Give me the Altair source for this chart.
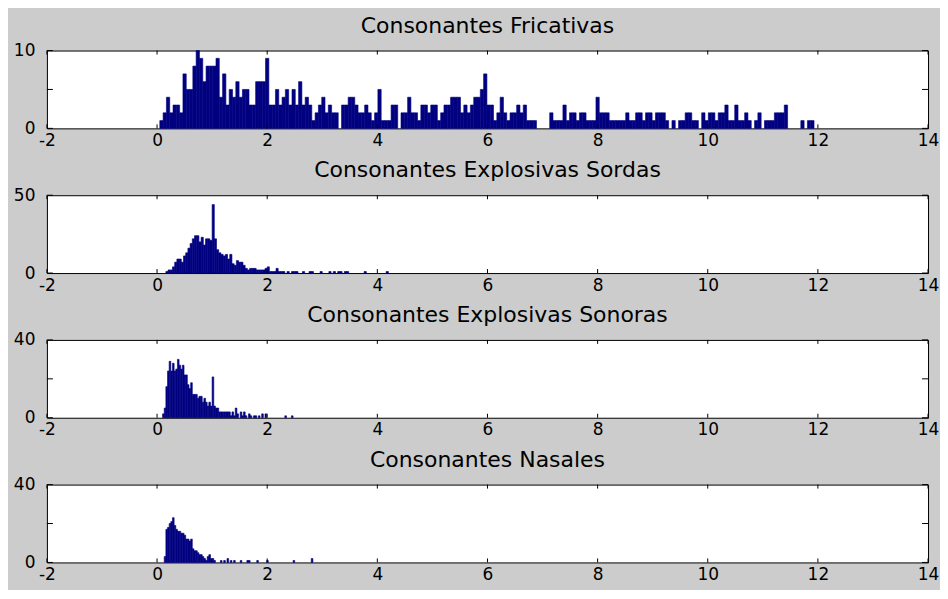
import altair as alt
import pandas as pd

# ---------------- data ----------------
titles = ["Consonantes Fricativas", "Consonantes Explosivas Sordas",
          "Consonantes Explosivas Sonoras", "Consonantes Nasales"]

x_ticks = [-2, 0, 2, 4, 6, 8, 10, 12, 14]

# Fricativas: bins of width 0.06 starting at 0.05
fric_start = 0.05
fric_width = 0.06
fric_counts = [
    1, 2, 4, 2, 3, 3, 2, 7, 5, 5,
    8, 10, 9, 6, 8, 8, 8, 9, 4, 7,
    3, 5, 4, 6, 4, 5, 5, 3, 3, 6,
    6, 6, 9, 3, 3, 5, 3, 4, 5, 3,
    5, 3, 6, 3, 4, 3, 1, 2, 3, 4,
    2, 3, 2, 2, 0, 3, 3, 4, 4, 3,
    2, 2, 3, 2, 1, 2, 5, 1, 1, 1,
    3, 3, 0, 2, 2, 4, 2, 2, 1, 3,
    3, 2, 3, 3, 1, 2, 3, 3, 4, 4,
    4, 2, 3, 2, 3, 4, 4, 5, 7, 3,
    3, 1, 2, 4, 2, 1, 2, 2, 3, 2,
    3, 1, 1, 1, 0, 0, 0, 0, 2, 1,
    1, 1, 3, 1, 2, 2, 1, 2, 2, 1,
    1, 1, 4, 2, 2, 2, 1, 1, 1, 1,
    1, 2, 1, 1, 2, 2, 1, 2, 2, 1,
    2, 2, 2, 1, 0, 1, 0, 1, 1, 2,
    2, 1, 1, 0, 2, 1, 2, 2, 1, 2,
    2, 3, 1, 1, 3, 1, 1, 2, 1, 0,
    1, 2, 0, 1, 1, 1, 2, 2, 2, 3,
    0, 0, 0, 0, 1, 0, 1, 1, 0, 0,
]

# Explosivas Sordas: bins of width 0.04 starting at 0.16
sord_start = 0.16
sord_width = 0.04
sord_counts = [
    1, 2, 2, 4, 7, 9, 9, 7, 11, 13,
    16, 19, 22, 24, 24, 20, 23, 18, 22, 22,
    21, 44, 22, 15, 13, 12, 11, 12, 9, 12,
    6, 5, 8, 7, 7, 5, 3, 2, 3, 3,
    3, 2, 2, 2, 2, 3, 4, 1, 1, 1,
    3, 1, 1, 1, 0, 1, 0, 1, 1, 1,
    0, 0, 1, 0, 0, 1, 1, 0, 0, 0,
    1, 0, 0, 0, 1, 0, 1, 0, 1, 1,
    0, 1, 1, 0, 0, 0, 0, 0, 0, 0,
    1, 0, 0, 0, 0, 0, 0, 0, 0, 0,
    1,
]

# Explosivas Sonoras: bins of width 0.03 starting at 0.10
sono_start = 0.10
sono_width = 0.03
sono_counts = [
    2, 5, 16, 24, 29, 24, 28, 24, 25, 30,
    27, 25, 27, 22, 22, 17, 15, 18, 12, 12,
    12, 10, 11, 11, 8, 10, 8, 6, 8, 6,
    21, 6, 5, 5, 3, 3, 3, 3, 3, 3,
    3, 1, 3, 1, 5, 2, 0, 3, 1, 3,
    1, 0, 2, 1, 0, 1, 1, 0, 1, 0,
    2, 0, 2, 0, 0, 0, 0, 0, 0, 0,
    0, 0, 0, 0, 1, 0, 0, 0, 1,
]

# Nasales: bins of width 0.03 starting at 0.10
nasa_start = 0.10
nasa_width = 0.03
nasa_counts = [
    0, 3, 17, 18, 20, 21, 23, 19, 17, 16,
    16, 15, 15, 14, 12, 12, 11, 12, 7, 6,
    6, 5, 4, 4, 3, 2, 1, 3, 4, 2,
    2, 1, 0, 0, 0, 1, 0, 1, 0, 2,
    0, 1, 0, 1, 0, 0, 0, 1, 0, 0,
    0, 1, 1, 0, 0, 0, 0, 1, 0, 0,
    0, 0, 0, 1, 0, 0, 0, 0, 0, 0,
    0, 0, 0, 0, 0, 0, 0, 0, 0, 1,
    0, 0, 0, 0, 0, 0, 0, 0, 0, 0,
    2,
]

y_max = [10, 50, 40, 40]
y_ticks = [[0, 5, 10], [0, 50], [0, 20, 40], [0, 20, 40]]

# ---------------- style ----------------
FONT = "DejaVu Sans"
BG = "#CCCCCC"
BAR = "#000080"
W, H = 883, 78


def bins_frame(start, width, counts):
    rows = []
    for i, c in enumerate(counts):
        if c > 0:
            lo = start + i * width
            rows.append({"lo": lo, "hi": lo + width, "n": c})
    return pd.DataFrame(rows)


def panel(title, df, ymax, yticks):
    xs = alt.Scale(domain=[-2, 14], nice=False, zero=False)
    ys = alt.Scale(domain=[0, ymax], nice=False)
    bars = alt.Chart(df).mark_bar(color=BAR, stroke=BAR, strokeWidth=0.6).encode(
        x=alt.X("lo:Q", scale=xs,
                axis=alt.Axis(values=x_ticks, title=None, labelFlush=False,
                              labelOverlap=False, labelPadding=4,
                              labelExpr="'' + datum.value")),
        x2="hi:Q",
        y=alt.Y("n:Q", scale=ys,
                axis=alt.Axis(values=yticks, title=None, labelFlush=False,
                              labelOverlap=False, labelPadding=12,
                              labelExpr="'' + datum.value")),
        y2=alt.datum(0),
    )
    xt = pd.DataFrame({"t": x_ticks})
    yt = pd.DataFrame({"t": yticks})
    tick_bot = alt.Chart(xt).mark_rule(color="black", strokeWidth=1).encode(
        x=alt.X("t:Q", scale=xs), y=alt.value(H), y2=alt.value(H - 4))
    tick_top = alt.Chart(xt).mark_rule(color="black", strokeWidth=1).encode(
        x=alt.X("t:Q", scale=xs), y=alt.value(0), y2=alt.value(4))
    tick_l = alt.Chart(yt).mark_rule(color="black", strokeWidth=1).encode(
        y=alt.Y("t:Q", scale=ys), x=alt.value(0), x2=alt.value(6))
    tick_r = alt.Chart(yt).mark_rule(color="black", strokeWidth=1).encode(
        y=alt.Y("t:Q", scale=ys), x=alt.value(W - 6), x2=alt.value(W))
    return alt.layer(bars, tick_bot, tick_top, tick_l, tick_r).properties(
        width=W, height=H,
        title=alt.TitleParams(title, font=FONT, fontSize=22, fontWeight="normal",
                              color="black", anchor="middle", offset=4),
    )


frames = [
    bins_frame(fric_start, fric_width, fric_counts),
    bins_frame(sord_start, sord_width, sord_counts),
    bins_frame(sono_start, sono_width, sono_counts),
    bins_frame(nasa_start, nasa_width, nasa_counts),
]

chart = alt.vconcat(
    *[panel(titles[k], frames[k], y_max[k], y_ticks[k]) for k in range(4)],
    spacing=9,
).resolve_scale(y="independent").properties(
    background=BG,
    padding={"left": 4, "top": 5, "right": 0, "bottom": 6},
).configure_view(
    stroke="black", strokeWidth=1, fill="white",
).configure_axis(
    domain=False, ticks=False, tickSize=0, grid=False,
    labelFont=FONT, labelFontSize=17, labelColor="black",
)

chart.save("out.html", embed_options={"renderer": "svg", "actions": False})
